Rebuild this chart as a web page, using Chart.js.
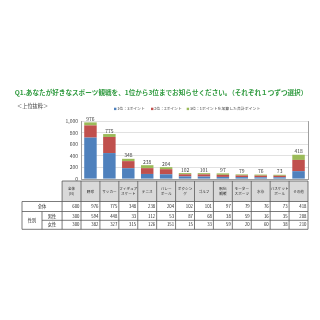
<!DOCTYPE html>
<html><head><meta charset="utf-8">
<script src="https://cdn.jsdelivr.net/npm/chart.js@4/dist/chart.umd.min.js"></script>
<style>html,body{margin:0;padding:0;background:#fff}#wrap{width:320px;height:320px}</style>
</head><body><div id="wrap"><canvas id="c" width="320" height="320"></canvas></div>
<script>
// Sports ranked by total points (1st = 3 pts, 2nd = 2 pts, 3rd = 1 pt)
const categories = ['野球','サッカー','フィギュアスケート','テニス','バレーボール','ボクシング','ゴルフ','駅伝観戦','モータースポーツ','水泳','バスケットボール','その他'];
const headerLabels = [['野球'],['サッカー'],['フィギュア','スケート'],['テニス'],['バレー','ボール'],['ボクシン','グ'],['ゴルフ'],['駅伝','観戦'],['モーター','スポーツ'],['水泳'],['バスケット','ボール'],['その他']];
const seriesNames = ['1位：3ポイント','2位：2ポイント','3位：1ポイントを加算した合計ポイント'];
const firstPlace  = [714, 447, 186,  87,  81, 45, 42, 36, 33, 30, 30, 135];
const secondPlace = [210, 278, 122, 100,  88, 36, 38, 36, 28, 28, 26, 194];
const thirdPlace  = [ 52,  50,  40,  51,  35, 21, 21, 25, 18, 18, 17,  89];
// Table rows: total / male / female points
const totalRow  = [976, 775, 348, 238, 204, 102, 101, 97, 79, 76, 73, 418];
const maleRow   = [594, 448,  33, 112,  53,  87,  68, 38, 59, 16, 35, 208];
const femaleRow = [382, 327, 315, 126, 151,  15,  33, 59, 20, 60, 38, 210];
const sampleN   = [600, 300, 300];
const yTicks    = [0, 200, 400, 600, 800, 1000];

const COLORS = ['#4F81BD', '#C0504D', '#9BBB59'];
const JP = '"Noto Sans CJK JP", "Noto Sans", sans-serif';
const fmt = v => v.toLocaleString('en-US');

const decorations = {
  id: 'decorations',
  afterDraw(chart) {
    const ctx = chart.ctx;
    const area = chart.chartArea;
    const xs = chart.scales.x, ys = chart.scales.y;
    ctx.save();

    // Title
    ctx.fillStyle = '#2E9A3E';
    ctx.font = 'bold 6.6px ' + JP;
    ctx.textAlign = 'center';
    ctx.textBaseline = 'middle';
    ctx.fillText('Q1.あなたが好きなスポーツ観戦を、1位から3位までお知らせください。（それぞれ１つずつ選択）', 161, 92);

    // Sub heading
    ctx.fillStyle = '#404040';
    ctx.font = '5.2px ' + JP;
    ctx.textAlign = 'left';
    ctx.fillText('＜上位抜粋＞', 17, 106);

    // Legend
    const legendX = [114, 151, 186.7];
    ctx.font = '3.9px ' + JP;
    chart.data.datasets.forEach((ds, i) => {
      ctx.fillStyle = ds.backgroundColor;
      ctx.fillRect(legendX[i], 107.7, 2.4, 2.4);
      ctx.fillStyle = '#404040';
      ctx.fillText(ds.label, legendX[i] + 3.2, 109);
    });

    // Totals above bars
    ctx.font = '5px ' + JP;
    ctx.textAlign = 'center';
    ctx.textBaseline = 'bottom';
    ctx.fillStyle = '#404040';
    totalRow.forEach((v, i) => {
      ctx.fillText(String(v), xs.getPixelForValue(i), ys.getPixelForValue(v) - 0.8);
    });

    // Table under the plot
    const w = (area.right - area.left) / categories.length;
    const x0 = area.left - w;           // column for the sample size
    const xR = area.right;
    const hTop = 181, hBot = 201.5;
    const rows = [201.5, 211.5, 220.3, 229.3];
    const tableL = 22, subL = 42;

    // header cells
    const headers = [['全体', '(N)']].concat(headerLabels);
    headers.forEach((lines, j) => {
      const cx = x0 + j * w;
      ctx.fillStyle = '#D9D9D9';
      ctx.fillRect(cx, hTop, w, hBot - hTop);
      ctx.fillStyle = '#262626';
      ctx.font = '3.6px ' + JP;
      ctx.textAlign = 'center';
      ctx.textBaseline = 'middle';
      const mid = (hTop + hBot) / 2;
      const step = 4.8;
      lines.forEach((t, k) => {
        ctx.fillText(t, cx + w / 2, mid + (k - (lines.length - 1) / 2) * step);
      });
    });

    // grid lines
    ctx.strokeStyle = '#595959';
    ctx.lineWidth = 0.8;
    const line = (ax, ay, bx, by) => { ctx.beginPath(); ctx.moveTo(ax, ay); ctx.lineTo(bx, by); ctx.stroke(); };
    line(x0, hTop, xR, hTop);
    line(tableL, rows[0], xR, rows[0]);
    line(tableL, rows[1], xR, rows[1]);
    line(subL, rows[2], xR, rows[2]);
    line(tableL, rows[3], xR, rows[3]);
    line(tableL, rows[0], tableL, rows[3]);
    line(subL, rows[1], subL, rows[3]);
    for (let j = 0; j <= headers.length; j++) {
      line(x0 + j * w, hTop, x0 + j * w, rows[3]);
    }

    // row labels
    ctx.fillStyle = '#262626';
    ctx.font = '4.3px ' + JP;
    ctx.textAlign = 'center';
    ctx.textBaseline = 'middle';
    ctx.fillText('全体', (tableL + x0) / 2, (rows[0] + rows[1]) / 2);
    ctx.fillText('性別', (tableL + subL) / 2, (rows[1] + rows[3]) / 2);
    ctx.fillText('男性', (subL + x0) / 2, (rows[1] + rows[2]) / 2);
    ctx.fillText('女性', (subL + x0) / 2, (rows[2] + rows[3]) / 2);

    // values
    ctx.textAlign = 'right';
    ctx.font = '4.3px ' + JP;
    const data = [totalRow, maleRow, femaleRow];
    data.forEach((row, r) => {
      const cy = (rows[r] + rows[r + 1]) / 2;
      ctx.fillText(String(sampleN[r]), x0 + w - 1.5, cy);
      row.forEach((v, i) => ctx.fillText(String(v), x0 + (i + 2) * w - 1.5, cy));
    });

    ctx.restore();
  }
};

new Chart(document.getElementById('c'), {
  type: 'bar',
  data: {
    labels: categories,
    datasets: [
      { label: seriesNames[0], data: firstPlace,  backgroundColor: COLORS[0] },
      { label: seriesNames[1], data: secondPlace, backgroundColor: COLORS[1] },
      { label: seriesNames[2], data: thirdPlace,  backgroundColor: COLORS[2] }
    ]
  },
  options: {
    responsive: false,
    animation: false,
    devicePixelRatio: 1,
    layout: { padding: { left: 60, right: 12, top: 121, bottom: 141 } },
    datasets: { bar: { categoryPercentage: 1, barPercentage: 0.66 } },
    plugins: { legend: { display: false }, title: { display: false }, tooltip: { enabled: false } },
    scales: {
      x: { stacked: true, display: false },
      y: {
        stacked: true, min: 0, max: 1000,
        afterFit: s => { s.width = 21; },
        afterBuildTicks: s => { s.ticks = yTicks.map(v => ({ value: v })); },
        ticks: { color: '#404040', font: { size: 5, family: JP }, padding: 3, callback: v => fmt(v) },
        grid: { drawTicks: false, color: c => c.tick && c.tick.value === 0 ? '#868686' : '#D9D9D9', lineWidth: 0.8 },
        border: { color: '#868686', width: 0.8 }
      },
      y2: {
        position: 'right', min: 0, max: 1,
        afterFit: s => { s.width = 0; },
        ticks: { display: false },
        grid: { display: false, drawTicks: false },
        border: { display: true, color: '#868686', width: 0.8 }
      }
    }
  },
  plugins: [decorations]
});
</script></body></html>
